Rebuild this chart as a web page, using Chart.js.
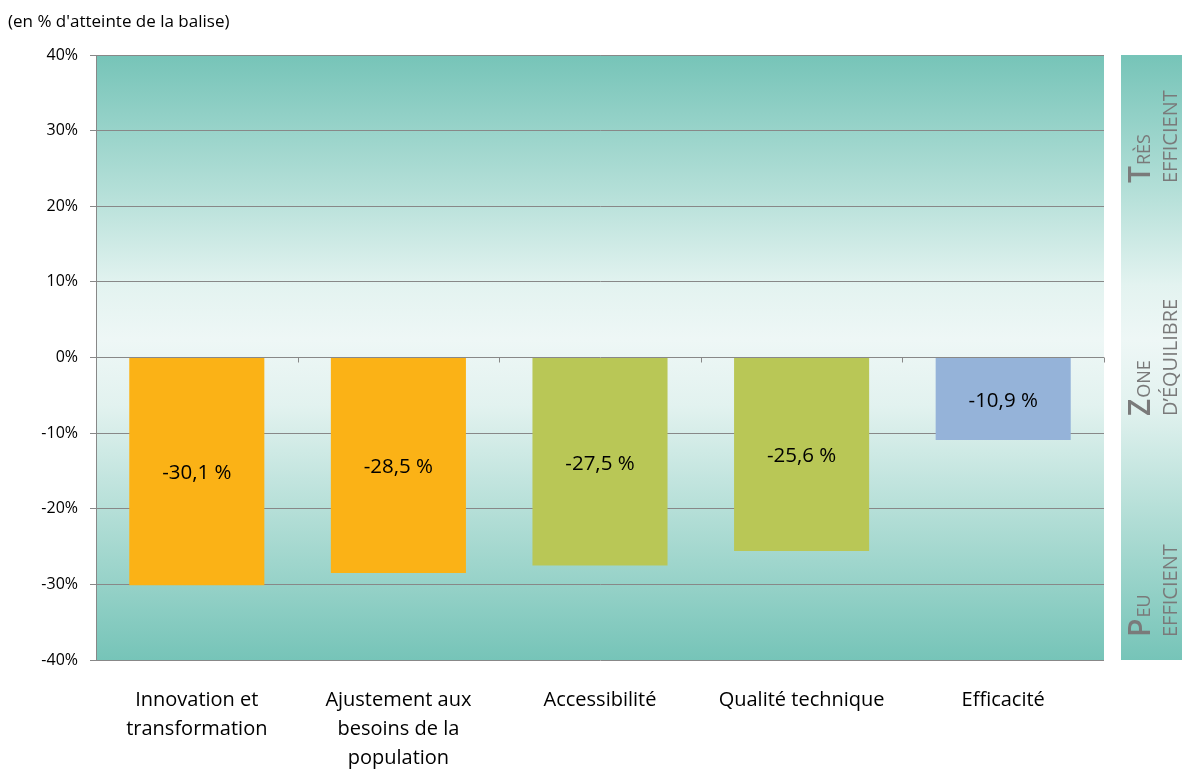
<!DOCTYPE html>
<html lang="fr">
<head>
<meta charset="utf-8">
<title>Atteinte de la balise</title>
<script src="https://cdn.jsdelivr.net/npm/chart.js@4.4.0/dist/chart.umd.min.js"></script>
<style>
    html, body { margin: 0; padding: 0; background: #fff; }
    #wrap { width: 1182px; height: 769px; position: relative; }
</style>
</head>
<body>
<div id="wrap"><canvas id="chart"></canvas></div>
<script>
// Data
const categories = [
    ['Innovation et', 'transformation'],
    ['Ajustement aux', 'besoins de la', 'population'],
    'Accessibilité',
    'Qualité technique',
    'Efficacité'
];
const values = [-30.1, -28.5, -27.5, -25.6, -10.9];
const barColors = ['#fbb216', '#fbb216', '#b9c756', '#b9c756', '#95b3d9'];
const yTicks = [-40, -30, -20, -10, 0, 10, 20, 30, 40];
const subtitle = "(en % d'atteinte de la balise)";
const zoneLabels = [
    { big: 'T', small: 'rès', second: 'efficient', start: 183 },
    { big: 'Z', small: 'one', second: 'd\u2019équilibre', start: 416 },
    { big: 'P', small: 'eu', second: 'efficient', start: 637 }
];

const FONT = "'Open Sans', 'Noto Sans', sans-serif";

function fillGradient(ctx, y1, y2) {
    const g = ctx.createLinearGradient(0, y1, 0, y2);
    g.addColorStop(0, '#76c4b8');
    g.addColorStop(0.24, '#b8e1da');
    g.addColorStop(0.38, '#e3f3f0');
    g.addColorStop(0.47, '#eef7f6');
    g.addColorStop(0.58, '#e2f2ef');
    g.addColorStop(0.78, '#aedcd4');
    g.addColorStop(1, '#76c4b8');
    return g;
}

// background, side panel, labels
const decorPlugin = {
    id: 'decor',
    beforeDraw(chart) {
        const { ctx, chartArea: a } = chart;
        ctx.save();
        ctx.fillStyle = fillGradient(ctx, a.top, a.bottom);
        ctx.fillRect(a.left, a.top, a.right - a.left, a.bottom - a.top);

        // side panel
        const px = a.right + 17;
        ctx.fillRect(px, a.top, chart.width - px, a.bottom - a.top);

        // subtitle
        ctx.fillStyle = '#000';
        ctx.font = '17px ' + FONT;
        ctx.textAlign = 'left';
        ctx.textBaseline = 'middle';
        ctx.fillText(subtitle, 8, 22);
        ctx.restore();
    },
    afterDraw(chart) {
        const { ctx, chartArea: a } = chart;
        const x = chart.scales.x;
        const y = chart.scales.y;
        const y0 = y.getPixelForValue(0);
        ctx.save();
        // small tick marks on the zero line at category boundaries
        ctx.strokeStyle = '#888888';
        ctx.lineWidth = 1;
        for (let i = 0; i <= categories.length; i++) {
            let px;
            if (i === 0) px = a.left;
            else if (i === categories.length) px = a.right;
            else px = (x.getPixelForValue(i - 1) + x.getPixelForValue(i)) / 2;
            px = Math.round(px) + 0.5;
            ctx.beginPath();
            ctx.moveTo(px, y0);
            ctx.lineTo(px, y0 + 5);
            ctx.stroke();
        }

        // rotated zone labels
        const panelX = a.right + 17;
        ctx.fillStyle = '#7a7a7a';
        ctx.textBaseline = 'alphabetic';
        ctx.textAlign = 'left';
        zoneLabels.forEach(z => {
            ctx.save();
            ctx.translate(panelX + 29, z.start);
            ctx.rotate(-Math.PI / 2);
            ctx.font = '600 30px ' + FONT;
            ctx.fillText(z.big, 0, 0);
            const w = ctx.measureText(z.big).width;
            ctx.font = '18px ' + FONT;
            ctx.fillText(z.small.toUpperCase(), w + 1, 0);
            ctx.restore();

            ctx.save();
            ctx.translate(panelX + 56, z.start);
            ctx.rotate(-Math.PI / 2);
            ctx.font = '20px ' + FONT;
            ctx.fillText(z.second.toUpperCase(), 0, 0);
            ctx.restore();
        });
        ctx.restore();
    },
    afterDatasetsDraw(chart) {
        const { ctx } = chart;
        const meta = chart.getDatasetMeta(0);
        ctx.save();
        ctx.fillStyle = '#000';
        ctx.font = '20.5px ' + FONT;
        ctx.textAlign = 'center';
        ctx.textBaseline = 'middle';
        meta.data.forEach((bar, i) => {
            const mid = (bar.y + bar.base) / 2;
            ctx.fillText(values[i].toFixed(1).replace('.', ',') + ' %', bar.x, mid + 2);
        });
        ctx.restore();
    }
};

const ctx = document.getElementById('chart').getContext('2d');
const chart = new Chart(ctx, {
    type: 'bar',
    data: {
        labels: categories,
        datasets: [{
            data: values,
            backgroundColor: barColors,
            borderWidth: 0,
            barPercentage: 0.67,
            categoryPercentage: 1
        }]
    },
    options: {
        responsive: true,
        maintainAspectRatio: false,
        animation: false,
        layout: { padding: { top: 55, right: 78, left: 0, bottom: 0 } },
        plugins: {
            legend: { display: false },
            tooltip: { enabled: false }
        },
        scales: {
            x: {
                grid: { display: false },
                border: { display: false },
                ticks: {
                    color: '#000',
                    font: { family: FONT, size: 20, lineHeight: 1.45 },
                    padding: 18,
                    maxRotation: 0,
                    autoSkip: false
                },
                afterFit(scale) { scale.height = 109; }
            },
            y: {
                min: -40,
                max: 40,
                afterBuildTicks(scale) {
                    scale.ticks = yTicks.map(v => ({ value: v }));
                },
                grid: {
                    color: '#888888',
                    lineWidth: 1,
                    tickLength: 6,
                    drawTicks: true
                },
                border: { display: true, color: '#888888' },
                ticks: {
                    color: '#000',
                    font: { family: FONT, size: 16 },
                    padding: 12,
                    callback: v => v + '%'
                },
                afterFit(scale) { scale.width = 96; }
            }
        }
    },
    plugins: [decorPlugin]
});
</script>
</body>
</html>
